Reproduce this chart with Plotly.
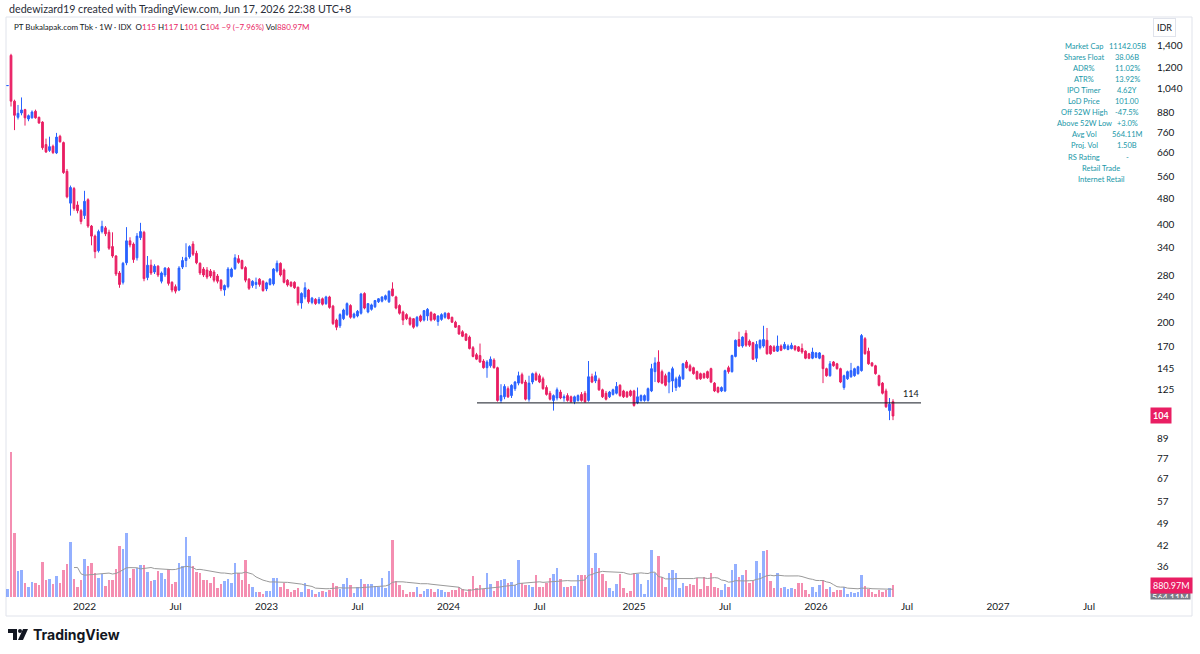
import plotly.graph_objects as go
import pandas as pd
import math

# ---------------- data ----------------
first_week = "2021-08-02"

open_ = [
    1060, 1310, 950, 848, 874, 895, 838, 845, 885, 848, 820, 700, 672, 692, 660, 742, 710, 580, 464, 514,
    458, 440, 425, 475, 395, 368, 332, 380, 390, 378, 342, 320, 284, 266, 305, 356, 348, 316, 364, 378,
    275, 300, 286, 298, 268, 280, 293, 266, 258, 252, 296, 310, 318, 348, 326, 304, 292, 290, 288, 286,
    278, 270, 252, 258,
    277, 293, 314, 310, 295, 272, 260, 262, 272, 268, 254, 262, 263, 288, 304, 290, 270, 266, 266, 257,
    230, 240, 252, 231, 236, 230, 237, 229, 240, 225, 204, 196, 206, 212, 226, 208, 210, 214, 246, 216,
    220, 224, 232, 233, 236, 232, 254, 240, 226, 216, 212, 207, 206, 196, 210, 204, 210, 215, 213, 202,
    205, 208, 214, 208,
    201, 196, 188, 185, 181, 168, 160, 159, 153, 146, 148, 154, 146, 116, 119, 126, 120, 126, 131, 139,
    132, 117, 132, 140, 138, 135, 127, 122, 116, 118, 123, 118, 120, 119, 115, 116, 121, 122, 116, 137,
    133, 134, 125, 122, 119, 121, 122, 129, 124, 123, 124, 124, 114, 116, 116, 116, 124, 142, 152, 142,
    138, 132,
    133, 127, 128, 135, 152, 148, 146, 142, 140, 140, 142, 145, 131, 127, 124, 124, 146, 142, 158, 178,
    170, 186, 176, 174, 156, 168, 170, 177, 170, 169, 164, 170, 167, 166, 167, 170, 169, 167, 164, 161,
    156, 157, 156, 159, 145, 138, 152, 150, 145, 127, 135, 137, 138, 140, 143, 179, 164, 151, 148, 138,
    131, 124, 108, 115,
]
high_ = [
    1060, 1325, 960, 925, 975, 900, 865, 890, 895, 852, 825, 730, 740, 700, 760, 750, 715, 590, 525, 520,
    470, 445, 506, 480, 398, 372, 385, 410, 395, 385, 378, 322, 288, 307, 392, 365, 352, 376, 404, 382,
    320, 312, 302, 300, 287, 296, 296, 268, 262, 298, 318, 350, 345, 355, 332, 306, 296, 296, 292, 290,
    282, 272, 262, 296,
    295, 324, 322, 312, 298, 274, 270, 275, 274, 270, 267, 274, 294, 310, 306, 293, 272, 268, 268, 258,
    248, 266, 254, 240, 238, 240, 239, 242, 242, 227, 206, 214, 221, 231, 228, 215, 219, 247, 248, 230,
    229, 235, 238, 241, 244, 251, 266, 242, 228, 218, 214, 209, 207, 210, 212, 219, 222, 217, 214, 211,
    214, 216, 215, 209,
    203, 197, 190, 186, 183, 170, 162, 173, 155, 154, 158, 156, 147, 130, 130, 128, 130, 133, 142, 141,
    134, 138, 141, 142, 140, 137, 129, 124, 121, 127, 125, 121, 122, 120, 120, 121, 123, 124, 153, 140,
    142, 136, 126, 124, 124, 126, 132, 130, 125, 124, 125, 125, 127, 121, 121, 127, 150, 157, 165, 144,
    140, 142,
    147, 137, 139, 151, 154, 150, 147, 143, 141, 141, 143, 146, 132, 128, 128, 144, 148, 160, 178, 188,
    182, 190, 178, 175, 176, 178, 196, 193, 171, 171, 183, 172, 175, 172, 174, 171, 170, 173, 165, 162,
    168, 163, 163, 160, 146, 153, 153, 151, 146, 139, 143, 151, 146, 148, 185, 181, 168, 152, 149, 139,
    132, 126, 118, 117,
]
low_ = [
    1060, 915, 775, 835, 860, 800, 825, 840, 840, 810, 675, 660, 665, 655, 655, 710, 570, 480, 425, 440,
    432, 400, 415, 390, 345, 315, 328, 375, 368, 334, 316, 278, 256, 262, 300, 340, 305, 310, 358, 268,
    270, 280, 282, 276, 264, 276, 260, 248, 246, 250, 292, 296, 314, 320, 302, 280, 276, 272, 274, 266,
    264, 250, 242, 255,
    275, 290, 303, 291, 266, 252, 256, 254, 258, 249, 250, 260, 260, 285, 277, 264, 258, 257, 254, 226,
    221, 236, 229, 228, 227, 228, 226, 227, 221, 197, 190, 193, 204, 210, 206, 206, 208, 212, 220, 214,
    218, 222, 230, 231, 234, 230, 241, 220, 212, 197, 204, 196, 192, 194, 201, 202, 203, 202, 203, 196,
    203, 206, 205, 200,
    193, 184, 181, 176, 166, 157, 154, 151, 145, 136, 146, 145, 115, 114, 117, 118, 118, 124, 129, 130,
    116, 115, 130, 133, 131, 125, 120, 116, 108, 116, 117, 115, 115, 114, 113, 115, 115, 114, 115, 131,
    131, 124, 118, 116, 118, 120, 121, 119, 118, 118, 119, 111, 113, 115, 115, 115, 123, 132, 131, 130,
    128, 122,
    123, 124, 127, 134, 145, 142, 139, 134, 134, 135, 135, 131, 123, 122, 123, 123, 140, 141, 157, 169,
    168, 169, 169, 154, 152, 166, 168, 160, 160, 163, 163, 164, 166, 165, 166, 164, 163, 161, 155, 155,
    155, 156, 155, 131, 137, 137, 147, 144, 131, 125, 134, 136, 137, 139, 142, 160, 149, 147, 139, 128,
    121, 110, 101, 101,
]
close_ = [
    1060, 950, 860, 872, 893, 845, 858, 880, 845, 815, 685, 665, 690, 662, 738, 714, 575, 485, 518, 447,
    440, 408, 470, 395, 368, 330, 380, 394, 374, 338, 320, 282, 262, 304, 356, 346, 312, 368, 380, 273,
    300, 284, 298, 280, 284, 294, 264, 252, 250, 294, 310, 316, 342, 324, 305, 284, 280, 276, 278, 270,
    268, 254, 260, 292,
    292, 316, 306, 293, 270, 255, 268, 266, 262, 251, 265, 272, 292, 304, 280, 266, 261, 259, 256, 230,
    246, 256, 232, 238, 229, 236, 228, 240, 223, 199, 194, 212, 219, 229, 208, 213, 217, 245, 222, 229,
    227, 234, 237, 240, 242, 250, 242, 222, 214, 204, 206, 198, 194, 208, 203, 218, 220, 204, 205, 210,
    212, 214, 206, 201,
    194, 185, 182, 177, 167, 158, 155, 152, 146, 152, 155, 146, 116, 120, 128, 119, 129, 132, 138, 131,
    117, 131, 140, 134, 132, 126, 121, 117, 120, 125, 118, 119, 116, 115, 119, 120, 116, 115, 137, 132,
    138, 125, 119, 117, 123, 125, 128, 120, 119, 119, 120, 112, 119, 120, 120, 126, 145, 151, 132, 131,
    129, 141,
    145, 135, 137, 150, 146, 143, 140, 135, 135, 136, 136, 132, 124, 123, 127, 143, 142, 159, 177, 170,
    181, 171, 171, 155, 172, 177, 178, 161, 161, 164, 170, 165, 172, 170, 171, 166, 164, 163, 156, 156,
    163, 162, 162, 145, 138, 150, 148, 145, 132, 138, 142, 143, 145, 147, 183, 161, 150, 148, 140, 129,
    122, 111, 113, 104,
]
volume_m = [
    587, 10570, 4698, 1908, 1982, 1028, 734, 1101, 1028, 881, 2569, 1248, 1321, 954, 1541, 1028, 1982, 2422, 4037, 1321,
    734, 1248, 2789, 2275, 2496, 1762, 1395, 1688, 807, 1248, 1248, 2055, 3743, 3523, 4698, 1395, 2055, 2129, 2349, 2349,
    1835, 1174, 1248, 1908, 1762, 1321, 2055, 954, 1101, 2496, 2275, 4404, 3009, 2275, 1835, 1762, 1248, 1248, 1028, 1468,
    661, 954, 1174, 1321, 1028, 2496, 1762, 1248, 2716, 954, 734, 367, 367, 220, 440, 440, 1395, 1395, 734, 1028,
    587, 367, 514, 661, 367, 1028, 587, 514, 220, 367, 440, 367, 514, 1028, 807, 587, 954, 1395, 881, 294,
    734, 1321, 954, 954, 954, 807, 734, 1395, 661, 1908, 4184, 1174, 881, 514, 220, 367, 367, 734, 220, 440,
    587, 587, 367, 587, 514, 367, 367, 514, 514, 734, 587, 367, 587, 1541, 661, 881, 587, 1762, 954, 440,
    1174, 1248, 1321, 1028, 1101, 881, 2716, 1028, 881, 881, 734, 1615, 734, 734, 1028, 1395, 1688, 2129, 1321, 734,
    734, 807, 807, 1615, 1615, 1615, 9615, 2129, 3230, 2129, 1688, 1174, 661, 440, 954, 1688, 661, 294, 440, 1762,
    1688, 954, 220, 1248, 3450, 1762, 3009, 1468, 734, 1762, 1982, 1762, 661, 1028, 807, 954, 881, 1395, 587, 1468,
    807, 1762, 734, 661, 514, 954, 734, 1982, 2422, 1468, 1615, 1982, 1028, 1174, 2642, 1762, 3376, 3450, 1174, 661,
    1762, 661, 734, 587, 661, 587, 1028, 1028, 514, 220, 734, 367, 881, 1248, 587, 734, 367, 514, 514, 734,
    220, 367, 294, 367, 1640, 820.2, 600, 367, 220, 514, 367, 514, 661, 880.97,
]

price_ticks = [1400, 1200, 1040, 880, 760, 660, 560, 480, 400, 340, 280, 240, 200, 170, 145, 125,
               89, 77, 67, 57, 49, 42, 36]
time_tick_dates = ["2022-01-03", "2022-07-04", "2023-01-02", "2023-07-03", "2024-01-01", "2024-07-01",
                   "2025-01-06", "2025-07-07", "2026-01-05", "2026-07-06", "2027-01-04", "2027-07-05"]
time_tick_text = ["2022", "Jul", "2023", "Jul", "2024", "Jul", "2025", "Jul", "2026", "Jul", "2027", "Jul"]

support_level = 114
support_start = "2024-02-27"
support_end = "2026-08-03"

stats_labels = ["Market Cap", "Shares Float", "ADR%", "ATR%", "IPO Timer", "LoD Price",
                "Off 52W High", "Above 52W Low", "Avg Vol", "Proj. Vol", "RS Rating"]
stats_values = ["11142.05B", "38.06B", "11.02%", "13.92%", "4.62Y", "101.00",
                "-47.5%", "+3.0%", "564.11M", "1.50B", "-"]
stats_sector = ["Retail Trade", "Internet Retail"]

# ---------------- styling ----------------
UP = "#2962FF"
DOWN = "#E91E63"
UP_VOL = "rgba(41,98,255,0.5)"
DOWN_VOL = "rgba(233,30,99,0.5)"
TEAL = "#1797a8"
TXT = "#131722"
FONT = "Trebuchet MS, Lato, sans-serif"

W, H = 1200, 654
ML, MR, MT, MB = 6, 52, 17, 57


def px_x(px):
    return (px - ML) / (W - ML - MR)


def px_y(py):
    return (H - MB - py) / (H - MT - MB)


n = len(close_)
dates = pd.date_range(first_week, periods=n, freq="7D")
vol = pd.Series(volume_m)
vol_ma = vol.rolling(20).mean()
vol_colors = [UP_VOL if c >= o else DOWN_VOL for o, c in zip(open_, close_)]

fig = go.Figure()

fig.add_trace(go.Bar(
    x=dates, y=volume_m, yaxis="y2", marker=dict(color=vol_colors, line=dict(width=0)),
    width=5 * 86400000, showlegend=False, hoverinfo="skip"))
fig.add_trace(go.Scatter(
    x=dates, y=vol_ma, yaxis="y2", mode="lines", line=dict(color="#9a9a9a", width=1),
    showlegend=False, hoverinfo="skip"))

fig.add_trace(go.Candlestick(
    x=dates, open=open_, high=high_, low=low_, close=close_,
    increasing=dict(line=dict(color=UP, width=1), fillcolor=UP),
    decreasing=dict(line=dict(color=DOWN, width=1), fillcolor=DOWN),
    showlegend=False, hoverinfo="skip"))

fig.add_trace(go.Scatter(
    x=[support_start, support_end], y=[support_level, support_level], mode="lines",
    line=dict(color="#131722", width=1), showlegend=False, hoverinfo="skip"))

ann = []
ann.append(dict(x=px_x(7), y=px_y(8), xref="paper", yref="paper", xanchor="left", yanchor="middle",
                text="dedewizard19 created with TradingView.com, Jun 17, 2026 22:38 UTC+8",
                showarrow=False, font=dict(size=10.7, color="#2a2e39", family=FONT)))

chg = close_[-1] - close_[-2]
pct = chg / close_[-2] * 100
sign = "−" if chg < 0 else "+"


def red(s):
    return f"<span style='color:{DOWN}'>{s}</span>"


legend = ("PT Bukalapak.com Tbk · 1W · IDX  "
          f"O{red(open_[-1])} H{red(high_[-1])} L{red(low_[-1])} C{red(close_[-1])} "
          f"{red(f'{sign}{abs(chg)} ({sign}{abs(pct):.2f}%)')} "
          f"Vol{red(f'{volume_m[-1]:.2f}M')}")
ann.append(dict(x=px_x(12), y=px_y(27), xref="paper", yref="paper", xanchor="left", yanchor="middle",
                text=legend, showarrow=False, font=dict(size=8, color=TXT, family=FONT)))

# stats table
for k, (lab, val) in enumerate(zip(stats_labels, stats_values)):
    yy = px_y(46 + k * 11.1)
    ann.append(dict(x=px_x(1084), y=yy, xref="paper", yref="paper", xanchor="center", yanchor="middle",
                    text=lab, showarrow=False, font=dict(size=7.5, color=TEAL, family=FONT)))
    ann.append(dict(x=px_x(1127), y=yy, xref="paper", yref="paper", xanchor="center", yanchor="middle",
                    text=val, showarrow=False, font=dict(size=7.5, color=TEAL, family=FONT)))
for k, s in enumerate(stats_sector):
    ann.append(dict(x=px_x(1101), y=px_y(168 + k * 11.1), xref="paper", yref="paper", xanchor="center",
                    yanchor="middle", text=s, showarrow=False, font=dict(size=7.5, color=TEAL, family=FONT)))

# IDR box
ann.append(dict(x=px_x(1164), y=px_y(28), xref="paper", yref="paper", xanchor="center", yanchor="middle",
                text="IDR", showarrow=False, font=dict(size=9, color=TXT, family=FONT),
                bordercolor="#e0e3eb", borderwidth=1, borderpad=3, bgcolor="white"))

# last price label
ann.append(dict(x=px_x(1150), y=math.log10(close_[-1]), xref="paper", yref="y", xanchor="left",
                yanchor="middle", text=f"<b>{close_[-1]}</b>", showarrow=False,
                font=dict(size=9, color="white", family=FONT), bgcolor=DOWN, borderpad=2))

# support label
ann.append(dict(x=support_end, y=math.log10(support_level), xref="x", yref="y", xanchor="right",
                yanchor="bottom", yshift=2, text=str(support_level), showarrow=False,
                font=dict(size=9, color=TXT, family=FONT)))

# volume labels (MA label is cut off by the pane bottom, as in the original)
ann.append(dict(x=px_x(1150), y=px_y(590), xref="paper", yref="paper", xanchor="left", yanchor="top",
                text=f"{vol_ma.iloc[-1]:.2f}M", showarrow=False, height=6, valign="top",
                font=dict(size=9, color="white", family=FONT), bgcolor="#787b86", borderpad=1))
ann.append(dict(x=px_x(1150), y=px_y(585), xref="paper", yref="paper", xanchor="left", yanchor="middle",
                text=f"{volume_m[-1]:.2f}M", showarrow=False,
                font=dict(size=9, color="white", family=FONT), bgcolor=DOWN, borderpad=2))

# TradingView logo text
ann.append(dict(x=px_x(31), y=px_y(634), xref="paper", yref="paper", xanchor="left", yanchor="middle",
                text="<b>TradingView</b>", showarrow=False, font=dict(size=14, color="#131722", family="Inter")))

shapes = []
# frame
shapes.append(dict(type="rect", xref="paper", yref="paper", x0=px_x(6), x1=px_x(1192), y0=px_y(616),
                   y1=px_y(17), line=dict(color="#e0e3eb", width=1), layer="below"))


def path(pts):
    return "M " + " L ".join(f"{px_x(a)},{px_y(b)}" for a, b in pts) + " Z"


shapes.append(dict(type="path", xref="paper", yref="paper",
                   path=path([(8, 629), (17, 629), (17, 640), (13, 640), (13, 633), (8, 633)]),
                   fillcolor="#131722", line=dict(width=0)))
shapes.append(dict(type="circle", xref="paper", yref="paper", x0=px_x(18), x1=px_x(22), y0=px_y(633),
                   y1=px_y(629), fillcolor="#131722", line=dict(width=0)))
shapes.append(dict(type="path", xref="paper", yref="paper",
                   path=path([(23, 629), (28, 629), (23, 640), (18, 640)]),
                   fillcolor="#131722", line=dict(width=0)))

fig.update_layout(
    width=W, height=H, margin=dict(l=ML, r=MR, t=MT, b=MB),
    paper_bgcolor="white", plot_bgcolor="white",
    font=dict(family=FONT, color=TXT, size=10),
    showlegend=False, bargap=0,
    xaxis=dict(type="date", range=["2021-07-30", "2027-10-31"], tickvals=time_tick_dates,
               ticktext=time_tick_text, showgrid=False, zeroline=False, showline=False, ticks="",
               rangeslider=dict(visible=False), tickfont=dict(size=10, color=TXT), ticklabelstandoff=2),
    yaxis=dict(type="log", range=[1.4646, 3.2345], side="right", tickvals=price_ticks,
               ticktext=[f"{v:,}" for v in price_ticks], showgrid=False, zeroline=False, showline=False,
               ticks="", tickfont=dict(size=10, color=TXT), ticklabelstandoff=8),
    yaxis2=dict(overlaying="y", range=[0, 42280], visible=False, fixedrange=True),
    annotations=ann, shapes=shapes,
)

fig.write_html("out.html")
